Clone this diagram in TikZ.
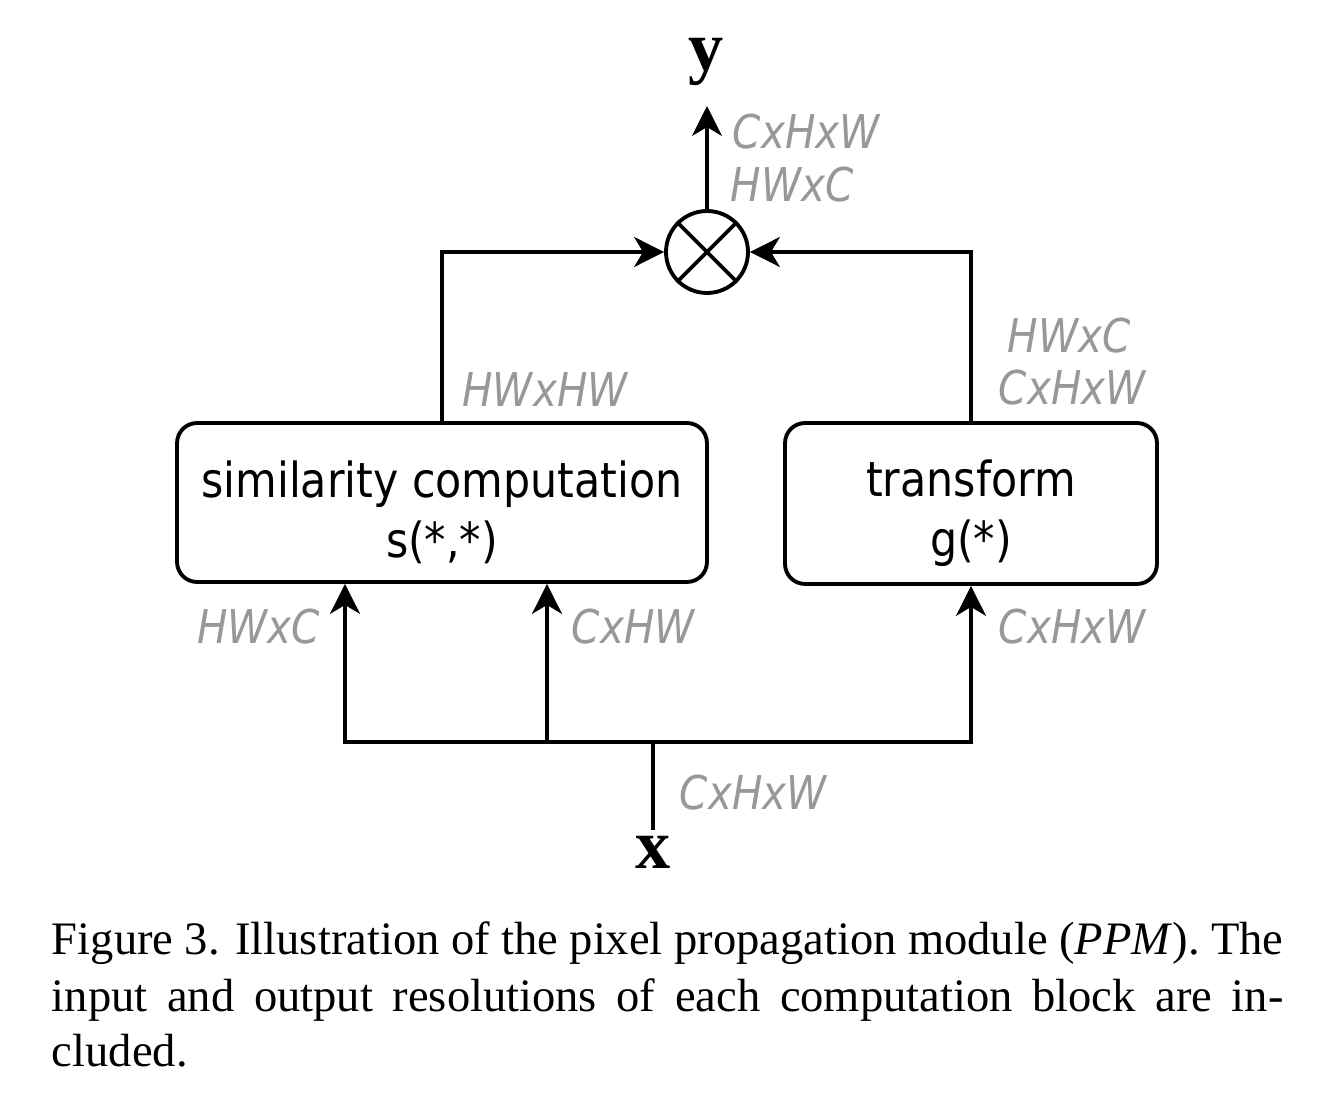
\documentclass[tikz,border=0pt]{standalone}
\usepackage{fontspec}
\setmainfont{Liberation Serif}
\newfontfamily\boxfont[FakeStretch=0.885]{DejaVu Sans}
\newfontfamily\labfont[FakeStretch=0.87]{DejaVu Sans}
\usetikzlibrary{arrows.meta}
\definecolor{dimgraytext}{RGB}{152,152,152}
\newcommand{\toppad}{\rule{0pt}{32pt}}
\begin{document}
\begin{tikzpicture}[x=0.02cm,y=-0.02cm,
  line width=2.2pt,
  arr/.style={-{Stealth[length=17pt,width=17pt,inset=5pt]}},
  blockbox/.style={draw,rounded corners=0.4cm,align=center,inner sep=0pt,
     font=\boxfont\fontsize{27.5pt}{34pt}\selectfont},
  dimlab/.style={text=dimgraytext,inner sep=0pt,
     font=\labfont\itshape\fontsize{26.5pt}{30pt}\selectfont},
  varlab/.style={inner sep=0pt,font=\bfseries\fontsize{40pt}{44pt}\selectfont},
  capline/.style={anchor=base west,inner sep=0pt,
     font=\fontsize{26.5pt}{32pt}\selectfont}]
\useasboundingbox (0,0) rectangle (1330,1114);

% blocks
\node[blockbox,minimum width=10.6cm,minimum height=3.18cm] (sim) at (442,502.5)
  {\toppad similarity computation\\s(*,*)};
\node[blockbox,minimum width=7.44cm,minimum height=3.22cm] (tr) at (971,503.5)
  {\toppad transform\\g(*)};
\node[draw,circle,minimum size=1.64cm,inner sep=0pt] (mul) at (707,252) {};
\draw (mul.north east) -- (mul.south west);
\draw (mul.north west) -- (mul.south east);

% inputs / outputs
\node[varlab] (ylab) at (706,62) {y};
\node[varlab] (xlab) at (653,852) {x};
\coordinate (ytip) at (707,106);
\coordinate (xb) at (653,830);
\coordinate (j) at (653,742);
\coordinate (bl) at (345,742);
\coordinate (bm) at (547,742);
\coordinate (br) at (971,742);

% connectors
\draw[arr] (mul.north) -- (ytip);
\draw[arr] (sim.north) |- (mul.west);
\draw[arr] (tr.north) |- (mul.east);
\draw[{Stealth[length=17pt,width=17pt,inset=5pt]}-{Stealth[length=17pt,width=17pt,inset=5pt]}]
  (bl |- sim.south) -- (bl) -- (br) -- (tr.south);
\draw[arr] (bm) -- (bm |- sim.south);
\draw (xb) -- (j);

% dimension labels
\node[dimlab,anchor=west] (l1) at (731,132) {CxHxW};
\node[dimlab,anchor=west] (l2) at (729,185) {HWxC};
\node[dimlab] (l3) at (545,390) {HWxHW};
\node[dimlab,anchor=west] (l4) at (1006,336) {HWxC};
\node[dimlab,anchor=west] (l5) at (997,388) {CxHxW};
\node[dimlab,anchor=east] (l6) at (322,627) {HWxC};
\node[dimlab,anchor=west] (l7) at (570,627) {CxHW};
\node[dimlab,anchor=west] (l8) at (997,627) {CxHxW};
\node[dimlab,anchor=west] (l9) at (678,793) {CxHxW};

% caption
\node[capline] (c1) at (50,955) {\makebox[701pt][s]{Figure 3. Illustration of the pixel propagation module (\textit{PPM}). The}};
\node[capline] (c2) at (50,1011) {\makebox[701pt][s]{input and output resolutions of each computation block are in-}};
\node[capline] (c3) at (50,1067) {cluded.};
\end{tikzpicture}
\end{document}
